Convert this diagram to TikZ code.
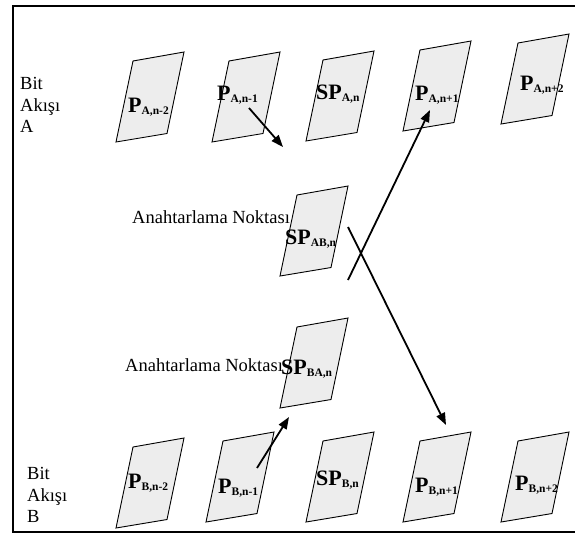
\documentclass[tikz,border=0pt]{standalone}
\usepackage{fontspec}
\setmainfont{Liberation Serif}
\usetikzlibrary{arrows.meta}
\newcommand\pkshape[2]{\draw[pkt] (#1,#2) -- ++(51,-8.5) -- ++(17,-81.5) -- ++(-51,9) -- cycle;}
\newcommand\subx[1]{\raisebox{-2pt}{\fontsize{11.5}{11.5}\selectfont #1}}
\begin{document}
\begin{tikzpicture}[x=1pt,y=-1pt,
  pkt/.style={draw=black, fill=gray!14, line width=0.9pt, line join=miter},
  lbl/.style={anchor=base west, inner sep=0pt, font=\bfseries\fontsize{22}{22}\selectfont},
  side/.style={anchor=north west, inner sep=0pt, align=left, font=\fontsize{18.5}{21.6}\selectfont},
  note/.style={anchor=base west, inner sep=0pt, font=\fontsize{18.5}{21.6}\selectfont},
  arr/.style={line width=1.8pt, -{Triangle[length=12pt,width=9pt]}},
]
\useasboundingbox (0,0) rectangle (575,543);
\draw[line width=2pt] (576,6) -- (12.5,6) -- (12.5,532) -- (576,532);

% packets, stream A
\pkshape{116}{142}
\pkshape{212}{142}
\pkshape{306}{141}
\pkshape{403}{131}
\pkshape{501}{124}
% switching points
\pkshape{280}{276}
\pkshape{280}{408}
% packets, stream B
\pkshape{116}{528}
\pkshape{206}{522}
\pkshape{306}{522}
\pkshape{403}{522}
\pkshape{501}{522}

% side labels
\node[side] (bitA) at (20,77) {Bit\\Akışı\\A};
\node[side] (bitB) at (27,467) {Bit\\Akışı\\B};
\node[note] (anAB) at (132,223) {Anahtarlama Noktası};
\node[note] (anBA) at (125,371) {Anahtarlama Noktası};

% packet labels
\node[lbl] (pa2) at (128,112) {P\subx{A,n-2}};
\node[lbl] (pa1) at (217,100) {P\subx{A,n-1}};
\node[lbl] (spa) at (316,99) {SP\subx{A,n}};
\node[lbl] (pa3) at (415,100) {P\subx{A,n+1}};
\node[lbl] (pa4) at (520,90) {P\subx{A,n+2}};
\node[lbl] (spab) at (285,244) {SP\subx{AB,n}};
\node[lbl] (spba) at (281,374) {SP\subx{BA,n}};
\node[lbl] (pb2) at (128,488) {P\subx{B,n-2}};
\node[lbl] (pb1) at (218,493) {P\subx{B,n-1}};
\node[lbl] (spb) at (316,485) {SP\subx{B,n}};
\node[lbl] (pb3) at (415,492) {P\subx{B,n+1}};
\node[lbl] (pb4) at (515,490) {P\subx{B,n+2}};

% arrow end points
\coordinate (a1s) at (249,108);
\coordinate (a1e) at (283,147);
\coordinate (a2s) at (348,280);
\coordinate (a2e) at (430,110);
\coordinate (a3s) at (348,227);
\coordinate (a3e) at (446,425);
\coordinate (a4s) at (257,468);
\coordinate (a4e) at (289,417);

\draw[arr] (a1s) -- (a1e);
\draw[arr] (a2s) -- (a2e);
\draw[arr] (a3s) -- (a3e);
\draw[arr] (a4s) -- (a4e);
\end{tikzpicture}
\end{document}
